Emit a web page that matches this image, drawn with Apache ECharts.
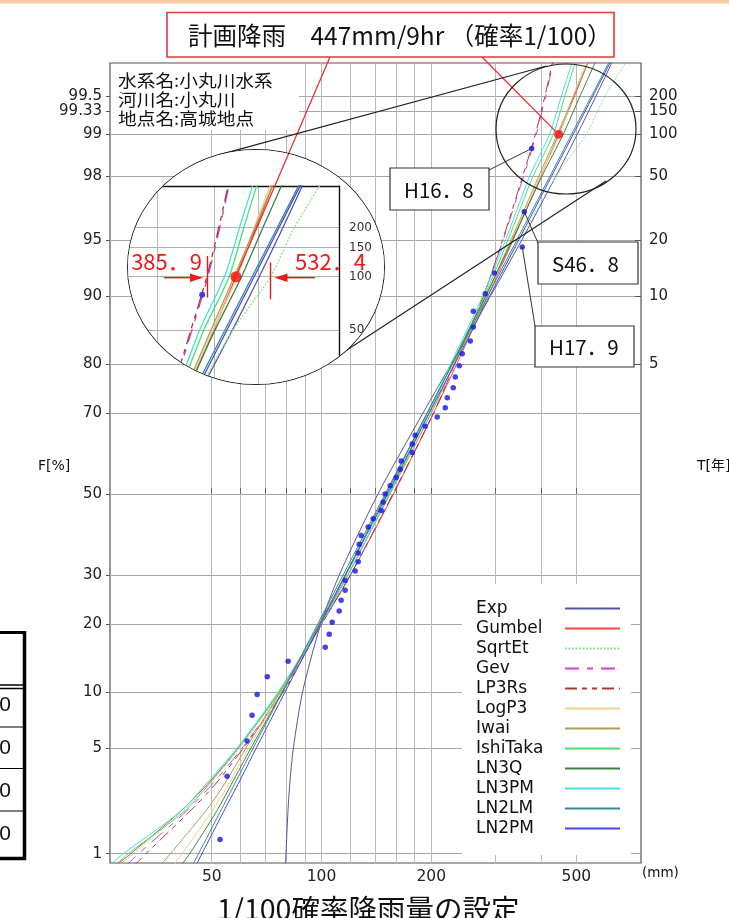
<!DOCTYPE html>
<html lang="ja">
<head>
<meta charset="utf-8">
<title>1/100確率降雨量の設定</title>
<script src="https://cdn.jsdelivr.net/npm/echarts@6.0.0/dist/echarts.min.js"></script>
<style>
  html, body { margin: 0; padding: 0; background: #fff; }
  #main { position: absolute; left: 0; top: 0; width: 729px; height: 918px; }
  #lens { position: absolute; left: 127px; top: 149px; width: 258px; height: 236px; box-sizing: border-box;
          border: 1.2px solid #222; border-radius: 50%; overflow: hidden; background: #fff; }
  #inset { position: absolute; left: 0; top: 0; width: 256px; height: 234px; }
</style>
</head>
<body>
<div id="main"></div>
<div id="lens"><div id="inset"></div></div>
<script>
// ---- data -------------------------------------------------------------
// Non-exceedance probability levels (%) at which each fitted curve is sampled
const F_LEVELS = [0.8, 1, 2, 3, 5, 10, 20, 30, 50, 70, 80, 90, 95, 98, 99, 99.5, 99.8];

// Fitted distributions: 9-hour rainfall (mm) at F_LEVELS
const EXP_MM      = [79.7, 79.9, 80.9, 81.8, 83.7, 88.7, 99.5, 111.8, 142.8, 189.8, 227, 290.8, 354.6, 438.9, 502.7, 566.5, 650.8];
const GUMBEL_MM   = [27, 30, 41, 48.5, 59, 76.5, 100, 120, 157.6, 203, 235, 286, 335.5, 399, 447, 494.5, 557];
const SQRTET_MM   = [27.5, 30.5, 41.5, 49, 59.5, 77, 99.5, 118.5, 153, 198, 232, 290, 350, 440, 532.4, 600, 720];
const GEV_MM      = [29, 31.5, 42.5, 50, 60.5, 78, 100, 120, 157, 203, 232, 278, 315, 358, 388, 412, 440];
const LP3RS_MM    = [30.5, 33, 43.5, 51, 61, 78.5, 100, 120, 157, 203, 232, 278, 314, 356, 385.9, 410, 438];
const LOGP3_MM    = [39, 41.5, 50, 55.5, 63, 77.5, 99, 118, 154, 200, 232, 284, 333, 398, 450, 490, 550];
const IWAI_MM     = [36, 38.5, 48, 54, 62, 77, 99, 118, 154, 200, 231, 283, 331, 394, 443, 492, 557];
const ISHITAKA_MM = [27, 29.5, 42, 49, 59, 76.5, 99.5, 118, 153.5, 197, 228, 280, 325, 380, 432, 465, 510];
const LN3Q_MM     = [41, 43.5, 51.5, 56.5, 64, 78, 98.5, 116, 150.5, 195, 228, 282, 334, 402, 460, 512, 585];
const LN3PM_MM    = [26, 28.6, 41, 48, 58.6, 76, 99.5, 118, 153, 196, 226, 277, 320, 372, 422, 455, 500];
const LN2LM_MM    = [44.1, 46, 52.8, 57.6, 64.9, 78.1, 97.6, 114.6, 149.4, 194.8, 228.8, 285.8, 343.6, 422.7, 485, 550.5, 641.4];
const LN2PM_MM    = [45.1, 47, 53.9, 58.9, 66.2, 79.4, 99.3, 116.5, 151.8, 197.6, 231.8, 289.3, 347.5, 427, 490, 555.4, 646.6];

// Observed annual maxima (mm, ascending) and their plotting positions (%)
const OBS_MM = [52.7, 55.1, 62.5, 64.5, 66.6, 71.0, 81.0, 102.4, 105.0, 107.0, 111.8, 113.2, 116.1, 116.1, 123.7, 126.1,
                126.1, 126.9, 128.5, 134.3, 138.6, 145.8, 147.6, 149.5, 154.3, 160.3, 164.4, 165.4, 177.4, 177.4, 180.7,
                192.5, 207.7, 218.5, 221.3, 229.8, 232.7, 238.7, 243.2, 255.9, 260.8, 260.8, 281.3, 297.7, 355.3, 359.8, 377.0];
const OBS_F  = [1.27, 3.39, 5.51, 7.63, 9.75, 11.86, 13.98, 16.10, 18.22, 20.34, 22.46, 24.58, 26.69, 28.81, 30.93, 33.05,
                35.17, 37.29, 39.41, 41.53, 43.64, 45.76, 47.88, 50.00, 52.12, 54.24, 56.36, 58.47, 60.59, 62.71, 64.83,
                66.95, 69.07, 71.19, 73.31, 75.42, 77.54, 79.66, 81.78, 83.90, 86.02, 88.14, 90.25, 92.37, 94.49, 96.61, 98.73];

// Design rainfall and the spread of the fitted 1/100 quantiles
const PLAN_MM = 447, PLAN_F = 99;
const RANGE_LOW_MM = 385.9, RANGE_HIGH_MM = 532.4;

// Axis ticks
const F_TICKS     = [1, 5, 10, 20, 30, 50, 70, 80, 90, 95, 98, 99, 99.333, 99.5];
const F_TICK_TEXT = ['1', '5', '10', '20', '30', '50', '70', '80', '90', '95', '98', '99', '99.33', '99.5'];
const T_TICKS     = [5, 10, 20, 50, 100, 150, 200];
const X_LABELS    = [50, 100, 200, 500];
const X_GRID      = [50, 60, 70, 80, 90, 100, 120, 140, 160, 180, 200, 300, 400, 500];

// Axis extents (mm, %)
const X_RANGE = [26.3, 752];
const F_RANGE = [0.85, 99.735];
const INSET_X_RANGE = [259.3, 752];
const INSET_F_RANGE = [96.25, 99.735];

// ---- probability-paper scale: normal quantile of F ----------------------
function probit(p) {
  const a = [-3.969683028665376e+01, 2.209460984245205e+02, -2.759285104469687e+02, 1.383577518672690e+02, -3.066479806614716e+01, 2.506628277459239e+00];
  const b = [-5.447609879822406e+01, 1.615858368580409e+02, -1.556989798598866e+02, 6.680131188771972e+01, -1.328068155288572e+01];
  const c = [-7.784894002430293e-03, -3.223964580411365e-01, -2.400758277161838e+00, -2.549671348283239e+00, 4.374664141464968e+00, 2.938163982698783e+00];
  const d = [7.784695709041462e-03, 3.224671290700398e-01, 2.445134137142996e+00, 3.754408661907416e+00];
  const pl = 0.02425;
  let q, r;
  if (p < pl) {
    q = Math.sqrt(-2 * Math.log(p));
    return (((((c[0] * q + c[1]) * q + c[2]) * q + c[3]) * q + c[4]) * q + c[5]) / ((((d[0] * q + d[1]) * q + d[2]) * q + d[3]) * q + 1);
  }
  if (p > 1 - pl) {
    q = Math.sqrt(-2 * Math.log(1 - p));
    return -(((((c[0] * q + c[1]) * q + c[2]) * q + c[3]) * q + c[4]) * q + c[5]) / ((((d[0] * q + d[1]) * q + d[2]) * q + d[3]) * q + 1);
  }
  q = p - 0.5; r = q * q;
  return (((((a[0] * r + a[1]) * r + a[2]) * r + a[3]) * r + a[4]) * r + a[5]) * q / (((((b[0] * r + b[1]) * r + b[2]) * r + b[3]) * r + b[4]) * r + 1);
}
const zOf = f => probit(f / 100);
const fOfT = t => 100 * (1 - 1 / t);

const F_TICK_Z = F_TICKS.map(zOf);
const T_TICK_Z = T_TICKS.map(t => zOf(fOfT(t)));
function labelFor(v, zs, texts) {
  for (let i = 0; i < zs.length; i++) if (Math.abs(zs[i] - v) < 1e-6) return texts[i];
  return '';
}

// ---- series styling ----------------------------------------------------
const CURVES = [
  { name: 'Exp',      mm: EXP_MM,      color: '#55559c', type: 'solid' },
  { name: 'Gumbel',   mm: GUMBEL_MM,   color: '#f04646', type: 'solid' },
  { name: 'SqrtEt',   mm: SQRTET_MM,   color: '#8ee08e', type: [2, 1.5] },
  { name: 'Gev',      mm: GEV_MM,      color: '#d040d0', type: [14, 8, 6, 8] },
  { name: 'LP3Rs',    mm: LP3RS_MM,    color: '#a83838', type: [12, 5, 5, 5, 5, 5] },
  { name: 'LogP3',    mm: LOGP3_MM,    color: '#f2cf8a', type: 'solid' },
  { name: 'Iwai',     mm: IWAI_MM,     color: '#a8a058', type: 'solid' },
  { name: 'IshiTaka', mm: ISHITAKA_MM, color: '#48e070', type: 'solid' },
  { name: 'LN3Q',     mm: LN3Q_MM,     color: '#3d7f45', type: 'solid' },
  { name: 'LN3PM',    mm: LN3PM_MM,    color: '#48dede', type: 'solid' },
  { name: 'LN2LM',    mm: LN2LM_MM,    color: '#3a8a8a', type: 'solid' },
  { name: 'LN2PM',    mm: LN2PM_MM,    color: '#4646e6', type: 'solid' }
];

function buildSeries(width, dotSize, planSize, withRangeTicks) {
  const list = CURVES.map(c => ({
    name: c.name, type: 'line', symbol: 'none', smooth: 0.25, z: 2,
    color: c.color,
    lineStyle: { color: c.color, width: width, type: c.type },
    data: c.mm.map((x, i) => [x, zOf(F_LEVELS[i])])
  }));
  list.push({
    name: 'obs', type: 'scatter', symbol: 'circle', symbolSize: dotSize, z: 3,
    itemStyle: { color: '#1414e6' },
    data: OBS_MM.map((x, i) => [x, zOf(OBS_F[i])])
  });
  const plan = {
    name: 'plan', type: 'scatter', symbol: 'circle', symbolSize: planSize, z: 4,
    itemStyle: { color: '#f20c0c' },
    data: [[PLAN_MM, zOf(PLAN_F)]]
  };
  if (withRangeTicks) {
    plan.markLine = {
      silent: true, symbol: ['none', 'none'], animation: false,
      lineStyle: { color: '#f01818', width: 1.4, type: 'solid' }, label: { show: false },
      data: [
        [{ coord: [RANGE_LOW_MM, zOf(99.25)] }, { coord: [RANGE_LOW_MM, zOf(98.68)] }],
        [{ coord: [RANGE_HIGH_MM, zOf(99.18)] }, { coord: [RANGE_HIGH_MM, zOf(98.65)] }]
      ]
    };
  }
  list.push(plan);
  return list;
}

const AXIS_FONT = 'DejaVu Sans';
const JP_FONT = '"Noto Sans CJK JP"';

// ---- main chart ----------------------------------------------------------
const mainOption = {
  animation: false,
  backgroundColor: '#fff',
  grid: { left: 110, top: 63, right: 88, bottom: 55, show: true, borderColor: '#555', borderWidth: 1.2, backgroundColor: 'transparent' },
  xAxis: [{
    type: 'log', logBase: 10, min: X_RANGE[0], max: X_RANGE[1],
    axisLine: { show: false },
    axisTick: { show: true, inside: true, length: 6, customValues: X_GRID, lineStyle: { color: '#666' } },
    axisLabel: { customValues: X_LABELS, color: '#222', fontSize: 15.5, fontFamily: AXIS_FONT, margin: 6 },
    splitLine: { show: true, lineStyle: { color: '#b9b9b9', width: 1 } },
    minorTick: { show: false }, minorSplitLine: { show: false }
  }],
  yAxis: [{
    type: 'value', min: zOf(F_RANGE[0]), max: zOf(F_RANGE[1]), position: 'left',
    axisLine: { show: false },
    axisTick: { show: true, length: 4, customValues: F_TICK_Z, lineStyle: { color: '#555' } },
    axisLabel: { customValues: F_TICK_Z, formatter: v => labelFor(v, F_TICK_Z, F_TICK_TEXT), color: '#222', fontSize: 15, fontFamily: AXIS_FONT, margin: 8 },
    splitLine: { show: true, lineStyle: { color: '#a6a6a6', width: 1 } }
  }, {
    type: 'value', min: zOf(F_RANGE[0]), max: zOf(F_RANGE[1]), position: 'right',
    axisLine: { show: false },
    axisTick: { show: true, inside: true, length: 6, customValues: T_TICK_Z, lineStyle: { color: '#555' } },
    axisLabel: { customValues: T_TICK_Z, formatter: v => labelFor(v, T_TICK_Z, T_TICKS.map(String)), color: '#222', fontSize: 15, fontFamily: AXIS_FONT, margin: 8 },
    splitLine: { show: false }
  }],
  legend: {
    data: CURVES.map(c => c.name),
    orient: 'vertical', left: 462, top: 584, align: 'right',
    itemWidth: 55, itemHeight: 14, itemGap: 3,
    padding: [16, 10, 18, 14], backgroundColor: '#fff',
    selectedMode: false,
    itemStyle: { opacity: 0 },
    formatter: n => '{n|' + n + '}',
    textStyle: { rich: { n: { width: 84, align: 'left', fontSize: 17, fontFamily: AXIS_FONT, color: '#111' } } }
  },
  series: buildSeries(1, 5.5, 9, false)
};

// ---- magnified view around the 1/100 quantile ------------------------------
const insetOption = {
  animation: false,
  backgroundColor: '#fff',
  grid: { left: 0, top: 36, right: 45, bottom: 0, show: false },
  xAxis: {
    type: 'log', logBase: 10, min: INSET_X_RANGE[0], max: INSET_X_RANGE[1], position: 'top',
    axisLine: { show: true, onZero: false, lineStyle: { color: '#111', width: 1.4 } },
    axisTick: { show: false, customValues: [300, 400, 500] },
    axisLabel: { show: false },
    splitLine: { show: true, lineStyle: { color: '#b9b9b9', width: 1 } }
  },
  yAxis: {
    type: 'value', min: zOf(INSET_F_RANGE[0]), max: zOf(INSET_F_RANGE[1]), position: 'right',
    axisLine: { show: true, onZero: false, lineStyle: { color: '#111', width: 1.4 } },
    axisTick: { show: false, customValues: [98, 99, 99.333, 99.5].map(zOf) },
    axisLabel: { customValues: T_TICK_Z, formatter: v => labelFor(v, T_TICK_Z, T_TICKS.map(String)), color: '#333', fontSize: 12, fontFamily: AXIS_FONT, margin: 10 },
    splitLine: { show: true, lineStyle: { color: '#b0b0b0', width: 1 } }
  },
  series: buildSeries(1.3, 6, 11, true)
};

const mainChart = echarts.init(document.getElementById('main'), null, { renderer: 'canvas' });
mainChart.setOption(mainOption);
const insetChart = echarts.init(document.getElementById('inset'), null, { renderer: 'canvas' });
insetChart.setOption(insetOption);

// positions of referenced marks
const obsIdx = CURVES.length, planIdx = CURVES.length + 1;
const LENS_X = 128, LENS_Y = 150;
const planMain = mainChart.convertToPixel({ seriesIndex: planIdx }, [PLAN_MM, zOf(PLAN_F)]);
const planInset = insetChart.convertToPixel({ seriesIndex: planIdx }, [PLAN_MM, zOf(PLAN_F)]);
const dotPx = i => mainChart.convertToPixel({ seriesIndex: obsIdx }, [OBS_MM[i], zOf(OBS_F[i])]);
const dH168 = dotPx(46), dS468 = dotPx(45), dH179 = dotPx(44);

const TITLE_START_A = [330, 57], TITLE_START_B = [482, 57];

function txt(text, x, y, size, opt) {
  return Object.assign({
    type: 'text', z: 50, silent: true,
    style: Object.assign({ text: text, x: x, y: y, fill: '#111', fontSize: size, fontFamily: JP_FONT, align: 'left', verticalAlign: 'middle' }, (opt && opt.style) || {})
  }, (opt && opt.el) || {});
}
function ln(x1, y1, x2, y2, stroke, w) {
  return { type: 'line', z: 45, silent: true, shape: { x1, y1, x2, y2 }, style: { stroke: stroke || '#222', lineWidth: w || 1 } };
}
function box(x, y, w, h, stroke, lw, fill) {
  return { type: 'rect', z: 44, silent: true, shape: { x, y, width: w, height: h }, style: { fill: fill || '#fff', stroke: stroke, lineWidth: lw } };
}

const mainGraphics = [
  // top band of the page
  { type: 'rect', z: 40, silent: true, shape: { x: 0, y: 0, width: 729, height: 3.5 }, style: { fill: '#f8c9a2' } },
  // design rainfall heading
  box(167, 12.5, 447, 44.5, '#e2393b', 1.6, '#fff'),
  txt('計画降雨　447mm/9hr （確率1/100）', 188, 36, 24.5),
  ln(TITLE_START_A[0], TITLE_START_A[1], LENS_X + planInset[0], LENS_Y + planInset[1], '#ec3030', 1.3),
  ln(TITLE_START_B[0], TITLE_START_B[1], planMain[0], planMain[1], '#ec3030', 1.3),
  // site information
  { type: 'rect', z: 41, silent: true, shape: { x: 111, y: 64, width: 188, height: 66 }, style: { fill: '#fff' } },
  txt('水系名:小丸川水系', 118, 81, 17, { el: { scaleX: 1.1, originX: 118, originY: 81 } }),
  txt('河川名:小丸川', 118, 100, 17, { el: { scaleX: 1.1, originX: 118, originY: 100 } }),
  txt('地点名:高城地点', 118, 119, 17, { el: { scaleX: 1.1, originX: 118, originY: 119 } }),
  // axis captions
  txt('F[%]', 38, 466, 14, { style: { fontFamily: AXIS_FONT } }),
  txt('T[年]', 697, 466, 14, { style: { fontFamily: AXIS_FONT + ',' + JP_FONT } }),
  txt('(mm)', 642, 873, 13.5, { style: { fontFamily: AXIS_FONT } }),
  txt('1/100確率降雨量の設定', 217, 895, 28.5, { style: { verticalAlign: 'top' } }),
  // lens: small circle and tangents
  { type: 'ellipse', z: 45, silent: true, shape: { cx: 566, cy: 129, rx: 70, ry: 65 }, style: { fill: 'none', stroke: '#222', lineWidth: 1.2 } },
  ln(219.6, 154.6, 546.4, 66, '#222', 1.2),
  ln(330, 361, 606, 181, '#222', 1.2),
  // labelled storms
  ln(dH168[0], dH168[1], 489, 170, '#333', 1),
  box(390, 168, 99, 42, '#333', 1.2, '#fff'),
  txt('H16．8', 404, 190, 20.5),
  ln(dS468[0], dS468[1], 538, 243, '#333', 1),
  box(538, 242, 100, 42, '#333', 1.2, '#fff'),
  txt('S46．8', 552, 264, 20.5),
  ln(dH179[0], dH179[1], 535, 326, '#333', 1),
  box(535, 326, 99, 41, '#333', 1.2, '#fff'),
  txt('H17．9', 549, 347, 20.5),
  // table at the page edge
  ln(0, 632.5, 25, 632.5, '#000', 3),
  ln(24.5, 631, 24.5, 860, '#000', 3.5),
  ln(0, 685, 25, 685, '#000', 1.5),
  ln(0, 688.5, 25, 688.5, '#000', 1.5),
  ln(0, 727, 25, 727, '#000', 1),
  ln(0, 768.5, 25, 768.5, '#000', 1),
  ln(0, 811, 25, 811, '#000', 1),
  ln(0, 858.5, 26, 858.5, '#000', 3.5),
  txt('0', 11, 705, 21, { style: { align: 'right', fontFamily: 'Liberation Sans' } }),
  txt('0', 11, 748, 21, { style: { align: 'right', fontFamily: 'Liberation Sans' } }),
  txt('0', 11, 791, 21, { style: { align: 'right', fontFamily: 'Liberation Sans' } }),
  txt('0', 11, 834, 21, { style: { align: 'right', fontFamily: 'Liberation Sans' } })
];
mainChart.setOption({ graphic: mainGraphics });

// annotations inside the magnified view (lens-local pixels)
const lx = x => x - LENS_X, ly = y => y - LENS_Y;
const insetGraphics = [
  ln(lx(TITLE_START_A[0]), ly(TITLE_START_A[1]), planInset[0], planInset[1], '#ec3030', 1.3),
  txt('385．9', lx(202), ly(262), 22, { style: { fill: '#f01818', align: 'right' } }),
  ln(lx(164), ly(277.7), lx(194), ly(277.7), '#f01818', 1.4),
  { type: 'polygon', z: 50, silent: true, shape: { points: [[lx(203), ly(277.7)], [lx(190), ly(273.5)], [lx(190), ly(281.9)]] }, style: { fill: '#f01818' } },
  txt('532．4', lx(295), ly(262), 22, { style: { fill: '#f01818' } }),
  ln(lx(284), ly(277.7), lx(315), ly(277.7), '#f01818', 1.4),
  { type: 'polygon', z: 50, silent: true, shape: { points: [[lx(274.5), ly(277.7)], [lx(287.5), ly(273.5)], [lx(287.5), ly(281.9)]] }, style: { fill: '#f01818' } }
];
insetChart.setOption({ graphic: insetGraphics });
</script>
</body>
</html>
